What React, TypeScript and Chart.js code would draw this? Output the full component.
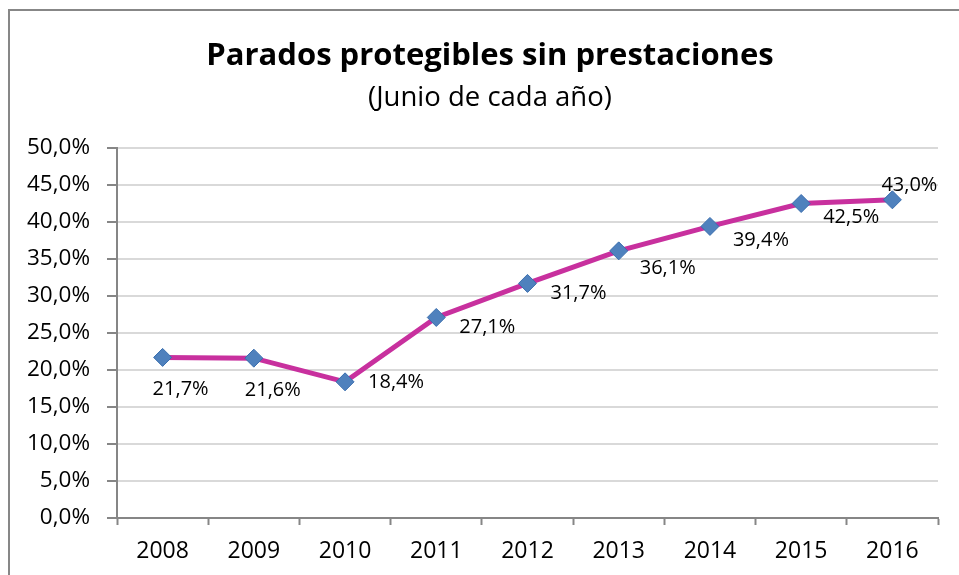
import React, { useEffect, useRef } from "react";
import { Chart, registerables } from "chart.js";

Chart.register(...registerables);

const years = ["2008", "2009", "2010", "2011", "2012", "2013", "2014", "2015", "2016"];
const values = [21.7, 21.6, 18.4, 27.1, 31.7, 36.1, 39.4, 42.5, 43.0];
const yMin = 0;
const yMax = 50;
const yStep = 5;
const titleText = "Parados protegibles sin prestaciones";
const subtitleText = "(Junio de cada año)";

// label placement relative to each point (style only)
const labelOffsets: [number, number][] = [
  [18, 32], [19, 32], [51, 0], [51, 10], [51, 10], [49, 17], [51, 14], [50, 14], [17, -15],
];

const FONT = "'Open Sans', 'Noto Sans', sans-serif";
const fmt = (v: number) => v.toFixed(1).replace(".", ",") + "%";

const titlePlugin = {
  id: "centeredTitle",
  afterDraw(chart: any) {
    const ctx = chart.ctx;
    const cx = chart.width / 2;
    ctx.save();
    ctx.fillStyle = "#000";
    ctx.textAlign = "center";
    ctx.textBaseline = "middle";
    ctx.font = `bold 31px ${FONT}`;
    ctx.fillText(titleText, cx, 45);
    ctx.font = `27.5px ${FONT}`;
    ctx.fillText(subtitleText, cx, 87.5);
    ctx.restore();
  },
};

const dataLabelPlugin = {
  id: "dataLabels",
  afterDatasetsDraw(chart: any) {
    const ctx = chart.ctx;
    const meta = chart.getDatasetMeta(0);
    ctx.save();
    ctx.font = `20px ${FONT}`;
    ctx.fillStyle = "#000";
    ctx.textAlign = "center";
    ctx.textBaseline = "middle";
    meta.data.forEach((pt: any, i: number) => {
      const [dx, dy] = labelOffsets[i];
      ctx.fillText(fmt(values[i]), pt.x + dx, pt.y + dy);
    });
    ctx.restore();
  },
};

export default function App() {
  const ref = useRef<HTMLCanvasElement>(null);
  useEffect(() => {
    if (!ref.current) return;
    const chart = new Chart(ref.current, {
      type: "line",
      data: {
        labels: years,
        datasets: [
          {
            data: values,
            borderColor: "#C8309E",
            borderWidth: 5,
            pointStyle: "rectRot",
            pointRadius: 9,
            pointBackgroundColor: "#4F81BD",
            pointBorderColor: "#3A6EAE",
            pointBorderWidth: 1,
            tension: 0,
          },
        ],
      },
      options: {
        responsive: false,
        animation: false,
        layout: { padding: { left: 0, right: 32, top: 137, bottom: 0 } },
        plugins: {
          legend: { display: false },
          tooltip: { enabled: false },
          title: { display: false },
          subtitle: { display: false },
        },
        scales: {
          x: {
            offset: true,
            grid: {
              display: true,
              offset: true,
              drawOnChartArea: false,
              drawTicks: true,
              tickLength: 7,
              tickColor: "#868686",
              tickWidth: 2,
            },
            border: { display: true, color: "#868686", width: 2 },
            ticks: {
              color: "#000",
              font: { family: FONT, size: 23 },
              padding: 13,
              maxRotation: 0,
            },
            afterFit(scale: any) {
              scale.height = 93;
            },
          },
          y: {
            min: yMin,
            max: yMax,
            grid: {
              color: "#D9D9D9",
              lineWidth: 2,
              tickLength: 10,
              tickColor: "#868686",
              tickWidth: 2,
            },
            border: { display: true, color: "#868686", width: 2 },
            ticks: {
              stepSize: yStep,
              color: "#000",
              font: { family: FONT, size: 22.5 },
              padding: 17,
              callback: (v: any) => fmt(Number(v)),
            },
            afterFit(scale: any) {
              scale.width = 107;
            },
          },
        },
      },
      plugins: [dataLabelPlugin, titlePlugin],
    });
    return () => chart.destroy();
  }, []);

  return (
    <div
      style={{
        position: "fixed",
        left: 0,
        top: 0,
        width: 959,
        height: 575,
        overflow: "hidden",
        background: "#fff",
      }}
    >
      <div
        style={{
          position: "absolute",
          left: 8,
          top: 9,
          width: 960,
          height: 600,
          border: "2px solid #878787",
        }}
      >
        <canvas ref={ref} width={960} height={600} style={{ display: "block" }} />
      </div>
    </div>
  );
}
